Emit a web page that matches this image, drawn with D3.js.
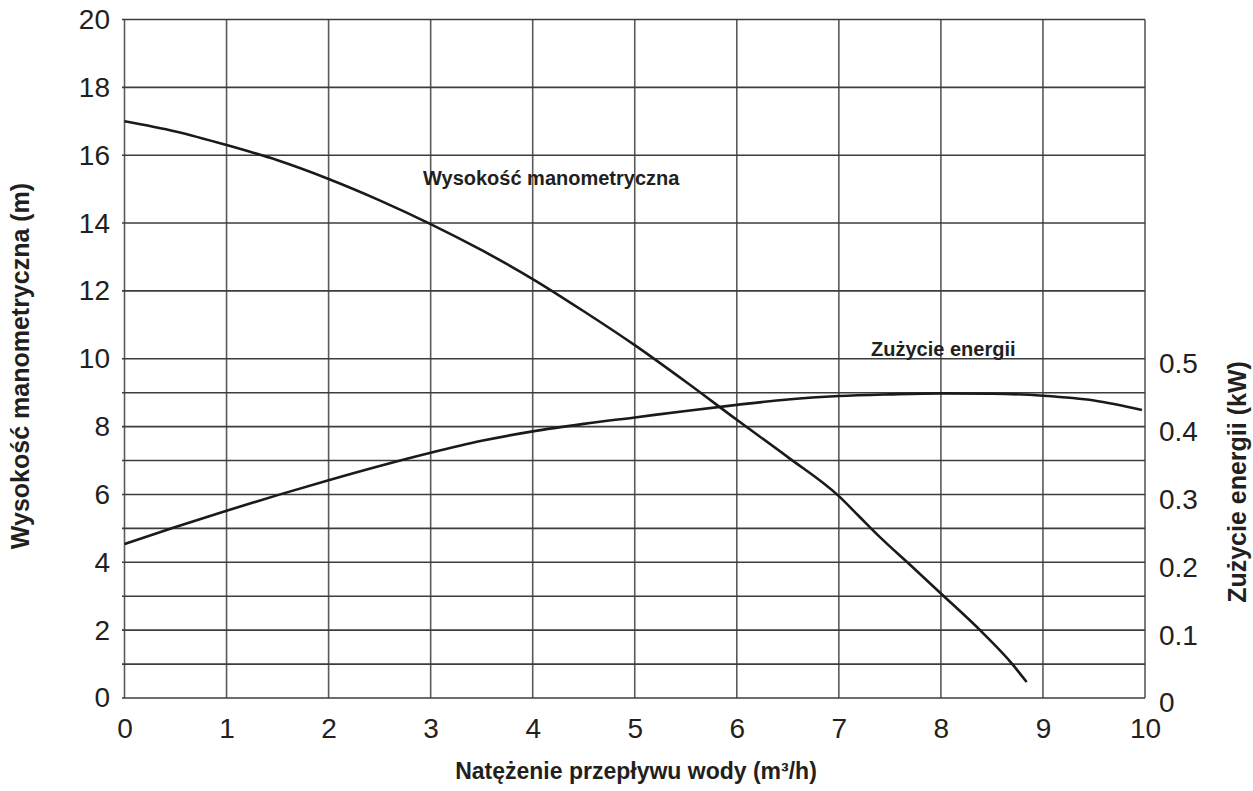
<!DOCTYPE html>
<html>
<head>
<meta charset="utf-8">
<script src="https://cdn.jsdelivr.net/npm/d3@7/dist/d3.min.js"></script>
<style>
  html, body { margin: 0; padding: 0; background: #fff; }
  svg { display: block; }
  text { font-family: "Liberation Sans", Arial, Helvetica, sans-serif; fill: #231f20; }
</style>
</head>
<body>
<svg id="chart" width="1253" height="791"></svg>
<script>
// ---- data ----
const xTicks = [0, 1, 2, 3, 4, 5, 6, 7, 8, 9, 10];
const headTicks = [0, 2, 4, 6, 8, 10, 12, 14, 16, 18, 20];
const powerTicks = [0, 0.1, 0.2, 0.3, 0.4, 0.5];
const powerMinor = [0.05, 0.15, 0.25, 0.35, 0.45];

const headFlow = [0, 0.5, 1, 1.5, 2, 2.5, 3, 3.5, 4, 4.5, 5, 5.5, 6, 6.5, 7, 7.2, 7.4, 7.7, 8, 8.4, 8.7, 8.84];
const headValue = [17.0, 16.7, 16.3, 15.85, 15.3, 14.67, 13.97, 13.2, 12.35, 11.4, 10.4, 9.32, 8.2, 7.1, 5.95, 5.35, 4.75, 3.92, 3.08, 1.95, 1.0, 0.47];

const powerFlow = [0, 0.5, 1, 1.5, 2, 2.5, 3, 3.5, 4, 4.5, 5, 5.5, 6, 6.5, 7, 7.5, 8, 8.5, 9, 9.5, 9.97];
const powerValue = [0.227, 0.252, 0.276, 0.299, 0.321, 0.342, 0.3615, 0.379, 0.393, 0.404, 0.4135, 0.423, 0.432, 0.44, 0.445, 0.4475, 0.449, 0.4485, 0.4455, 0.4385, 0.4245];

const labels = {
  xTitle: "Natężenie przepływu wody (m³/h)",
  yLeftTitle: "Wysokość manometryczna (m)",
  yRightTitle: "Zużycie energii (kW)",
  headLabel: "Wysokość manometryczna",
  powerLabel: "Zużycie energii"
};

// ---- layout ----
const svg = d3.select("#chart");
const L = 124.5, R = 1145, T = 19.5, B = 698;

const x = d3.scaleLinear().domain([0, 10]).range([L, R]);
const yL = d3.scaleLinear().domain([0, 20]).range([B, T]);
const yR = d3.scaleLinear().domain([0, 1]).range([B, T]);

// vertical gridlines
svg.append("g").selectAll("line").data(xTicks).join("line")
  .attr("x1", d => x(d)).attr("x2", d => x(d))
  .attr("y1", T).attr("y2", B)
  .attr("stroke", "#5a5a5a").attr("stroke-width", 1.6);

// horizontal gridlines (left axis)
svg.append("g").selectAll("line").data(headTicks).join("line")
  .attr("x1", L - 2.5).attr("x2", R)
  .attr("y1", d => yL(d)).attr("y2", d => yL(d))
  .attr("stroke", "#3c3c3c").attr("stroke-width", 1.6);

// horizontal gridlines (right axis minor)
svg.append("g").selectAll("line").data(powerMinor).join("line")
  .attr("x1", L - 2.5).attr("x2", R)
  .attr("y1", d => yR(d)).attr("y2", d => yR(d))
  .attr("stroke", "#3c3c3c").attr("stroke-width", 1.6);

// left axis labels
const axL = svg.append("g").attr("transform", `translate(${110},0)`)
  .call(d3.axisLeft(yL).tickValues(headTicks).tickSize(0).tickPadding(0));
axL.select(".domain").remove();
axL.selectAll("text").attr("font-size", 28).attr("font-family", null).attr("fill", "#231f20");

// right axis labels
const axR = svg.append("g").attr("transform", `translate(${1159},5)`)
  .call(d3.axisRight(yR).tickValues(powerTicks).tickSize(0).tickPadding(0).tickFormat(d => d === 0 ? "0" : d3.format(".1f")(d)));
axR.select(".domain").remove();
axR.selectAll("text").attr("font-size", 28).attr("font-family", null).attr("fill", "#231f20");

// bottom axis labels
const axB = svg.append("g").attr("transform", `translate(0,${718})`)
  .call(d3.axisBottom(x).tickValues(xTicks).tickSize(0).tickPadding(0));
axB.select(".domain").remove();
axB.selectAll("text").attr("font-size", 28).attr("font-family", null).attr("fill", "#231f20");

// curves
const headLine = d3.line().x(i => x(headFlow[i])).y(i => yL(headValue[i])).curve(d3.curveMonotoneX);
svg.append("path").attr("d", headLine(d3.range(headFlow.length)))
  .attr("fill", "none").attr("stroke", "#1a1a1a").attr("stroke-width", 2.6);

const powerLine = d3.line().x(i => x(powerFlow[i])).y(i => yR(powerValue[i])).curve(d3.curveMonotoneX);
svg.append("path").attr("d", powerLine(d3.range(powerFlow.length)))
  .attr("fill", "none").attr("stroke", "#1a1a1a").attr("stroke-width", 2.6);

// curve labels
svg.append("text").attr("x", 423).attr("y", 184.5)
  .attr("font-size", 20).attr("font-weight", "bold").text(labels.headLabel);
svg.append("text").attr("x", 871).attr("y", 356)
  .attr("font-size", 20).attr("font-weight", "bold").text(labels.powerLabel);

// axis titles
svg.append("text").attr("x", 636).attr("y", 779).attr("text-anchor", "middle")
  .attr("font-size", 23).attr("font-weight", "bold").text(labels.xTitle);
svg.append("text").attr("transform", "translate(29,366) rotate(-90)").attr("text-anchor", "middle")
  .attr("font-size", 25).attr("font-weight", "bold").text(labels.yLeftTitle);
svg.append("text").attr("transform", "translate(1246,482) rotate(-90)").attr("text-anchor", "middle")
  .attr("font-size", 25).attr("font-weight", "bold").text(labels.yRightTitle);
</script>
</body>
</html>
